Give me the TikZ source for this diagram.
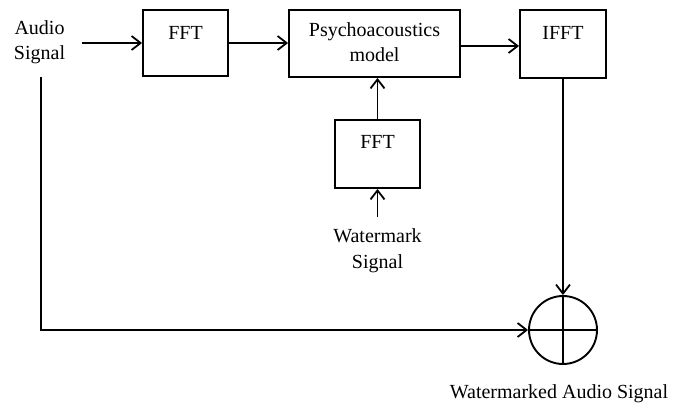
\documentclass[tikz,border=0pt]{standalone}
\usepackage{fontspec}
\setmainfont{Liberation Serif}
\usetikzlibrary{arrows.meta}
\begin{document}
\begin{tikzpicture}[x=1pt,y=-1pt,
  box/.style={draw,line width=1.9pt,minimum width=#1,inner sep=0pt},
  lbl/.style={font=\fontsize{20}{25}\selectfont,align=center,inner sep=0pt,anchor=base},
  arr/.style={line width=1.8pt,-{Straight Barb[length=9pt,width=14pt,line width=1.8pt]}},
  ln/.style={line width=1.8pt}]
\useasboundingbox (0,0) rectangle (674,403);
% boxes
\node[box=85pt,minimum height=66pt] (fft1) at (185.5,43) {};
\node[box=171pt,minimum height=67pt] (psy) at (374.5,43.5) {};
\node[box=86pt,minimum height=68pt] (ifft) at (563,44) {};
\node[box=85pt,minimum height=68pt] (fft2) at (377.5,154) {};
\node[draw,circle,line width=1.9pt,minimum size=68pt,inner sep=0pt] (sum) at (563,330) {};
% texts
\node[lbl] (taudio) at (39.5,60) {Audio\\Signal};
\node[lbl] (tfft1) at (185.5,40) {FFT};
\node[lbl] (tpsy) at (374.5,62) {Psychoacoustics\\model};
\node[lbl] (tifft) at (563,40) {IFFT};
\node[lbl] (tfft2) at (377.5,149) {FFT};
\node[lbl] (twm) at (377.5,268) {Watermark\\Signal};
\node[lbl] (tout) at (559,398) {Watermarked Audio Signal};
% free ends
\coordinate (ain) at (82,43);
\coordinate (aout) at (41,77);
\coordinate (wmin) at (377.5,217);
% connectors
\draw[arr] (ain) -- (fft1.west);
\draw[arr] (fft1.east) -- (fft1.east -| psy.west);
\draw[arr] ([yshift=-2.5pt]psy.east) -- ([yshift=-2.5pt]psy.east -| ifft.west);
\draw[arr] (ifft.south) -- (sum.north);
\draw[arr] (fft2.north) -- (fft2.north |- psy.south);
\draw[arr] (wmin) -- (fft2.south);
\draw[arr] (aout) |- (sum.west);
\draw[ln] (sum.north) -- (sum.south);
\draw[ln] (sum.west) -- (sum.east);
\end{tikzpicture}
\end{document}
